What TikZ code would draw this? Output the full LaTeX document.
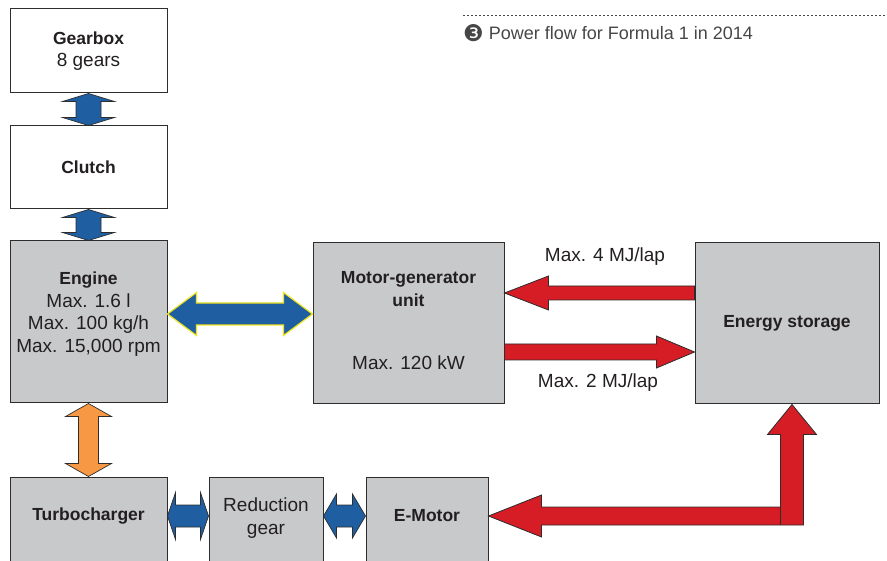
\documentclass[tikz,border=0pt]{standalone}
\usepackage{fontspec}
\setmainfont{Liberation Sans}
\newfontfamily\dingfont{DejaVu Sans}
\usepackage{tikz}
\usetikzlibrary{calc, positioning}
\usepackage{xcolor}
\definecolor{boxgray}{RGB}{200, 201, 203}
\definecolor{edgedark}{RGB}{45, 45, 45}
\definecolor{textdark}{RGB}{35, 31, 32}
\definecolor{captiongray}{RGB}{70, 70, 70}
\definecolor{flowblue}{RGB}{31, 94, 160}
\definecolor{flowred}{RGB}{214, 28, 36}
\definecolor{floworange}{RGB}{247, 152, 68}
\definecolor{edgeyellow}{RGB}{240, 228, 30}

% block arrows: style, first tip, second tip, shaft half, head half, head length
\newcommand{\hflowboth}[6]{%
  \draw[#1] (#2) -- ($(#2)+(#6,-#5)$) -- ($(#2)+(#6,-#4)$) -- ($(#3)+(-#6,-#4)$) -- ($(#3)+(-#6,-#5)$) -- (#3)
    -- ($(#3)+(-#6,#5)$) -- ($(#3)+(-#6,#4)$) -- ($(#2)+(#6,#4)$) -- ($(#2)+(#6,#5)$) -- cycle;}
\newcommand{\vflowboth}[6]{%
  \draw[#1] (#2) -- ($(#2)+(#5,#6)$) -- ($(#2)+(#4,#6)$) -- ($(#3)+(#4,-#6)$) -- ($(#3)+(#5,-#6)$) -- (#3)
    -- ($(#3)+(-#5,-#6)$) -- ($(#3)+(-#4,-#6)$) -- ($(#2)+(-#4,#6)$) -- ($(#2)+(-#5,#6)$) -- cycle;}
\newcommand{\hflowleft}[6]{%
  \draw[#1] (#2) -- ($(#2)+(#6,-#5)$) -- ($(#2)+(#6,-#4)$) -- ($(#3)+(0,-#4)$) -- ($(#3)+(0,#4)$)
    -- ($(#2)+(#6,#4)$) -- ($(#2)+(#6,#5)$) -- cycle;}
\newcommand{\hflowright}[6]{%
  \draw[#1] (#3) -- ($(#3)+(-#6,-#5)$) -- ($(#3)+(-#6,-#4)$) -- ($(#2)+(0,-#4)$) -- ($(#2)+(0,#4)$)
    -- ($(#3)+(-#6,#4)$) -- ($(#3)+(-#6,#5)$) -- cycle;}
\newcommand{\unitname}[1]{{\fontsize{17.5}{22.5}\selectfont\bfseries #1}}

\begin{document}
\begin{tikzpicture}[x=1pt, y=-1pt,
    unitbox/.style={draw=edgedark, line width=1pt, fill=boxgray, inner sep=0pt,
      font=\fontsize{19}{22.5}\selectfont, text=textdark, align=center},
    unittext/.style={font=\fontsize{19}{22.5}\selectfont, text=textdark, align=center, inner sep=0pt},
    blueflow/.style={fill=flowblue, draw=edgedark, line width=0.7pt},
    redflow/.style={fill=flowred, draw=edgedark, line width=0.8pt},
    orangeflow/.style={fill=floworange, draw=edgedark, line width=0.7pt},
    mainflow/.style={fill=flowblue, draw=edgeyellow, line width=1.2pt}]
  \useasboundingbox (0,0) rectangle (887,561);

  % caption
  \draw[captiongray, line width=0.8pt, dash pattern=on 2pt off 2pt] (463,15.5) -- (887,15.5);
  \node[anchor=west, font=\fontsize{18}{21}\selectfont, text=captiongray, inner sep=0pt] (caption) at (463,33)
    {{\dingfont\fontsize{23}{21}\selectfont\raisebox{-1.5pt}{❸}}\ Power flow for Formula 1 in 2014};

  % drive train
  \node[unitbox, fill=white, minimum width=157, minimum height=84] (gearbox) at (88.5,51)
    {\unitname{Gearbox}\\8 gears};
  \node[unitbox, fill=white, minimum width=157, minimum height=83] (clutch) at (88.5,167.5)
    {\unitname{Clutch}};
  \node[unitbox, minimum width=157, minimum height=162] (engine) at (88.5,322) {};
  \node[unittext] (enginetext) at (88.5,314)
    {\unitname{Engine}\\Max. 1.6 l\\Max. 100 kg/h\\Max. 15,000 rpm};

  % hybrid system
  \node[unitbox, minimum width=191, minimum height=161] (mgu) at (408.5,323.5) {};
  \node[unittext] (mgutitle) at (408.5,289) {\unitname{Motor-generator}\\\unitname{unit}};
  \node[unittext] (mgupower) at (408.5,363) {Max. 120 kW};
  \node[unitbox, minimum width=184, minimum height=161] (storage) at (787,323.5)
    {\unitname{Energy storage}};

  % exhaust side
  \node[unitbox, minimum width=157, minimum height=100] (turbo) at (88.5,527) {};
  \node[unitbox, minimum width=114, minimum height=100] (reduction) at (266,527) {};
  \node[unitbox, minimum width=122, minimum height=100] (emotor) at (427,527) {};
  \node[unittext] (turbotext) at (88.5,516) {\unitname{Turbocharger}};
  \node[unittext] (reductiontext) at (266,518) {Reduction\\gear};
  \node[unittext] (emotortext) at (427,516) {\unitname{E-Motor}};

  % rows of the horizontal arrows
  \coordinate (midrow) at (0,314);
  \coordinate (chargerow) at (0,293);
  \coordinate (boostrow) at (0,352);
  \coordinate (lowrow) at (0,516);

  % mechanical flow
  \vflowboth{blueflow}{gearbox.south}{clutch.north}{12.5}{26}{8}
  \vflowboth{blueflow}{clutch.south}{engine.north}{12.5}{26}{8}
  \hflowboth{mainflow}{engine.east |- midrow}{mgu.west |- midrow}{11}{21.5}{29}
  \vflowboth{orangeflow}{engine.south}{turbo.north}{10}{23}{13}
  \hflowboth{blueflow}{turbo.east |- lowrow}{reduction.west |- lowrow}{11}{23.5}{8}
  \hflowboth{blueflow}{reduction.east |- lowrow}{emotor.west |- lowrow}{11}{22}{13}

  % electrical flow
  \hflowleft{redflow}{mgu.east |- chargerow}{storage.west |- chargerow}{7}{17}{44}
  \hflowright{redflow}{mgu.east |- boostrow}{storage.west |- boostrow}{8}{16}{38}
  \node[unittext] (chargelabel) at (605,257) {Max. 4 MJ/lap};
  \node[unittext] (boostlabel) at (598,383) {Max. 2 MJ/lap};

  \coordinate (storagein) at ($(storage.south)+(5,0)$);
  \coordinate (elbow) at (storagein |- lowrow);
  \draw[redflow] (emotor.east |- lowrow) -- ++(53,-21) -- ++(0,12) -- ($(elbow)+(-11.5,-9)$)
    -- ($(storagein)+(-11.5,30)$) -- ++(-13,0) -- (storagein) -- ++(24.5,30) -- ++(-13,0)
    -- ($(elbow)+(11.5,9)$) -- ($(emotor.east |- lowrow)+(53,9)$) -- ++(0,12) -- cycle;
  \draw[edgedark, line width=0.8pt] ($(elbow)+(-11.5,-9)$) -- ($(elbow)+(-11.5,9)$);
\end{tikzpicture}
\end{document}
